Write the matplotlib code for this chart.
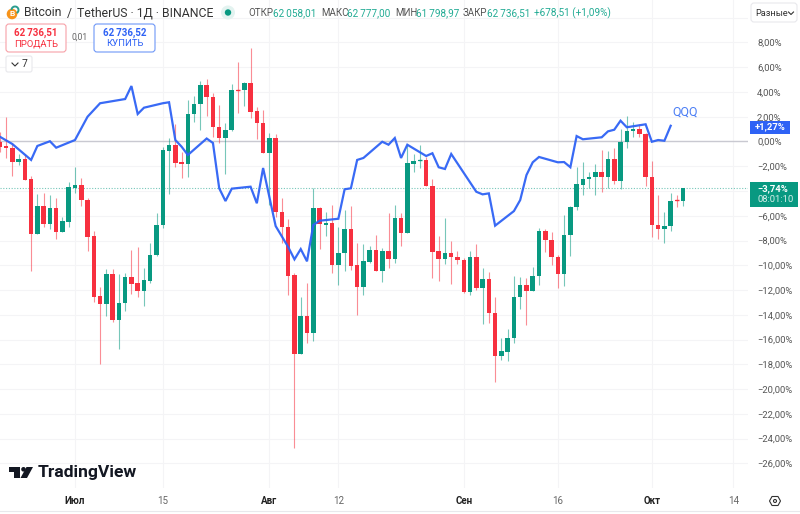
import matplotlib
matplotlib.use("Agg")
import matplotlib.pyplot as plt
from matplotlib.patches import FancyBboxPatch, Circle, Polygon, Rectangle, Arc

plt.rcParams['font.family'] = ['Roboto', 'DejaVu Sans']

# --- data: % change, day 0 = 1 July -------------------------------------
first_day = -12
opens = [-0.02,-0.36,-0.53,-1.66,-1.41,-3.03,-7.50,-5.21,-6.67,-5.37,-7.34,-6.48,-3.76,-3.49,-4.73,-7.66,
 -12.51,-13.15,-10.71,-14.40,-13.07,-10.95,-11.46,-12.10,-11.25,-9.19,-6.75,-0.74,-0.28,-1.68,-1.84,2.22,
 3.01,4.57,3.60,1.15,0.28,0.93,4.16,4.16,4.73,2.44,1.52,-0.90,0.26,-5.67,-6.91,-10.81,-17.17,-14.10,-15.50,
 -5.37,-6.72,-6.56,-9.95,-8.98,-7.07,-10.00,-11.78,-9.71,-8.79,-10.44,-8.82,-9.52,-6.18,-7.42,-1.79,-1.58,
 -1.47,-3.60,-8.87,-9.47,-8.98,-9.33,-9.55,-12.16,-9.33,-11.86,-11.11,-13.86,-17.31,-16.98,-15.90,-12.54,
 -11.62,-12.10,-10.87,-7.21,-7.98,-9.33,-10.73,-7.53,-5.29,-3.49,-3.05,-2.87,-2.49,-2.87,-1.41,-3.19,-0.04,
 0.85,0.99,0.61,-2.87,-6.77,-7.05,-6.83,-4.73,-4.83]
highs = [0.79,1.98,-0.12,-1.01,-1.01,-2.79,-4.24,-4.16,-4.32,-4.57,-6.08,-3.30,-2.04,-2.95,-4.54,-7.21,
 -11.76,-10.30,-10.33,-10.71,-10.60,-8.77,-8.55,-10.22,-8.23,-5.78,-0.47,0.31,1.41,-0.82,3.35,3.70,
 4.89,5.05,3.89,2.95,1.52,4.65,6.45,4.83,7.53,2.81,2.55,0.71,0.58,-4.59,-6.26,-10.65,-12.54,-11.46,-3.78,
 -5.27,-5.72,-5.13,-6.88,-5.53,-5.21,-8.23,-8.28,-8.42,-7.55,-8.58,-5.80,-5.16,-5.80,-0.28,-1.03,-0.28,
 -1.23,-3.05,-7.61,-6.21,-8.06,-8.85,-9.44,-8.85,-8.28,-10.25,-10.57,-12.56,-15.88,-15.17,-10.89,-10.97,
 -11.05,-10.14,-7.01,-7.05,-7.34,-9.19,-5.94,-5.21,-2.08,-1.63,-2.44,-1.82,-0.69,-0.77,-0.55,0.99,2.06,
 1.60,1.41,0.69,-1.58,-4.32,-5.72,-4.19,-4.32,-3.76]
lows = [-0.82,-1.33,-2.79,-1.90,-3.07,-10.44,-7.50,-6.88,-7.05,-7.85,-7.34,-6.88,-4.14,-5.19,-8.85,-12.94,
 -17.98,-14.08,-14.56,-16.77,-13.67,-12.32,-12.54,-13.27,-11.41,-9.23,-6.97,-4.27,-2.04,-2.97,-2.84,1.60,
 0.93,2.08,0.39,-0.10,-2.65,0.87,2.28,2.89,1.92,0.18,-0.95,-5.13,-6.08,-8.20,-12.40,-24.79,-17.19,-16.31,-16.10,
 -8.69,-7.61,-10.60,-11.59,-10.44,-10.38,-13.99,-12.40,-9.84,-10.44,-11.33,-10.20,-9.79,-8.42,-7.42,-2.49,-2.17,
 -3.62,-11.00,-11.25,-9.92,-11.49,-9.90,-12.22,-12.38,-12.00,-14.72,-14.67,-19.41,-17.65,-17.74,-16.26,-13.53,
 -14.80,-12.10,-11.59,-8.90,-9.98,-11.81,-11.65,-9.23,-5.53,-4.32,-3.78,-4.32,-4.06,-3.78,-3.43,-3.84,-0.50,
 0.39,0.39,-3.57,-7.69,-7.90,-8.18,-7.21,-5.27,-5.21]
closes = [-0.42,-0.53,-1.66,-1.41,-3.07,-7.47,-5.21,-6.67,-5.37,-7.34,-6.42,-3.70,-3.49,-4.75,-7.69,-12.54,
 -13.15,-10.71,-14.40,-13.07,-10.95,-11.51,-12.10,-11.22,-9.19,-6.75,-0.69,-0.28,-1.71,-1.84,2.22,3.01,
 4.57,3.60,1.17,0.28,0.93,4.16,4.10,4.73,2.41,1.52,-0.90,0.26,-5.67,-6.91,-10.84,-17.17,-14.10,-15.50,-5.37,
 -6.69,-6.56,-9.95,-8.98,-7.07,-10.04,-11.78,-9.68,-8.79,-10.44,-8.82,-9.52,-6.18,-7.42,-1.76,-1.58,-1.47,
 -3.62,-8.90,-9.47,-8.98,-9.36,-9.55,-12.16,-9.33,-11.86,-11.11,-13.88,-17.31,-16.95,-15.90,-12.54,-11.62,
 -12.10,-10.87,-7.21,-7.98,-9.36,-10.73,-7.53,-5.27,-3.43,-3.03,-2.84,-2.49,-2.87,-1.41,-3.19,-0.04,0.85,
 0.99,0.61,-2.87,-6.77,-7.05,-6.80,-4.78,-4.78,-3.76]

qqq_days = [-12,-10,-7,-6,-4,-3,0,2,4,8,9,10,11,14,15,16,17,18,21,22,23,24,25,28,29,30,32,34,35,36,37,38,39,42,
 43,44,45,46,49,50,51,52,53,56,57,58,59,60,64,65,66,67,70,71,72,73,74,77,78,79,80,81,84,85,86,87,88,91,92,93,94,95]
qqq_vals = [0.39,-0.20,-1.49,-0.36,0.02,-0.50,0.12,2.00,3.09,3.43,4.48,2.22,2.73,3.09,3.17,0.12,-0.42,-1.09,0.24,-0.12,
 -3.78,-4.81,-3.81,-3.65,-4.99,-2.14,-6.83,-8.52,-9.52,-8.69,-9.68,-6.75,-6.40,-6.24,-3.86,-3.78,-1.49,-1.33,-0.02,
 -0.26,0.28,-1.33,-0.26,-1.17,-0.95,-2.08,-2.22,-1.01,-4.06,-4.27,-4.19,-6.80,-5.62,-4.73,-2.71,-1.68,-1.25,-1.68,
 -1.66,-2.08,0.44,0.18,0.34,0.82,0.95,1.68,1.15,1.39,-0.02,0.12,0.06,1.27]

x_tick_days = [0, 14, 31, 42, 62, 77, 92, 105]
x_tick_labels = ['Июл', '15', 'Авг', '12', 'Сен', '16', 'Окт', '14']
x_tick_bold = [True, False, True, False, True, False, True, False]
y_ticks = list(range(8, -28, -2))
hidden_y_labels = [-4]   # covered by the price tag in the reference
last_btc = -3.74
last_qqq = 1.27

GREEN, RED, BLUE = '#089981', '#F7303F', '#2E62F5'
days = [first_day + i for i in range(len(closes))]

fig = plt.figure(figsize=(8.0, 5.14), dpi=100, facecolor='white')
W, H = 800, 514
ax = fig.add_axes([0, (H - 488) / H, 748 / W, 488 / H])
ax.set_xlim(-11.96, 107.33)
ax.set_ylim(-27.99, 11.43)
for s in ax.spines.values():
    s.set_visible(False)

# grid
def y_label(v):
    if v in hidden_y_labels:
        return ''
    return f'{v},00%' if v >= 0 else f'\u2212{abs(v)},00%'

ax.set_yticks(y_ticks + [10])
ax.set_yticklabels([y_label(v) for v in y_ticks] + [''])
ax.yaxis.tick_right()
ax.set_xticks(x_tick_days)
ax.set_xticklabels(x_tick_labels)
for lab, b in zip(ax.get_xticklabels(), x_tick_bold):
    lab.set_fontweight('bold' if b else 'normal')
    lab.set_color('#222222' if b else '#666666')
ax.tick_params(axis='x', length=0, pad=6, labelsize=7.0)
ax.tick_params(axis='y', length=0, pad=6.5, labelsize=6.8, labelcolor='#555555')
for lab in ax.get_yticklabels():
    lab.set_ha('left')
ax.grid(True, color='#F4F4F6', lw=0.8, zorder=0)
ax.set_axisbelow(True)

ax.axhline(0, color='#C9C9D1', lw=1.0, zorder=1)
ax.axhline(last_btc, color=GREEN, lw=0.8, ls=(0, (1, 1.5)), alpha=0.55, zorder=1)

# candles
colors = [GREEN if c >= o else RED for o, c in zip(opens, closes)]
ax.vlines(days, lows, highs, colors=colors, lw=0.8, alpha=0.55, zorder=2)
ax.bar(days, [abs(c - o) for o, c in zip(opens, closes)],
       bottom=[min(o, c) for o, c in zip(opens, closes)],
       width=0.72, color=colors, linewidth=0, zorder=3)
for d, o, c, col in zip(days, opens, closes, colors):
    if abs(c - o) < 0.12:
        ax.hlines((o + c) / 2, d - 0.36, d + 0.36, colors=col, lw=1.0, zorder=3)

# comparison series
ax.plot(qqq_days, qqq_vals, color=BLUE, lw=1.6, zorder=4, solid_joinstyle='miter', alpha=0.95)

# overlay in pixel coordinates for the interface furniture
ov = fig.add_axes([0, 0, 1, 1], facecolor='none', zorder=10)
ov.set_xlim(0, W)
ov.set_ylim(H, 0)
ov.axis('off')


def box(x0, y0, x1, y1, fc='white', ec='none', lw=0.8, r=3):
    ov.add_patch(FancyBboxPatch((x0 + r, y0 + r), x1 - x0 - 2 * r, y1 - y0 - 2 * r,
                                boxstyle=f'round,pad={r},rounding_size={r}',
                                fc=fc, ec=ec, lw=lw))


def t(x, y, s, c='#444444', size=7.0, ha='left', w='normal'):
    ov.text(x, y, s, color=c, fontsize=size, ha=ha, va='center', fontweight=w)


ov.plot([0, W], [511, 511], color='#E8E8EC', lw=0.8)

# header
ov.add_patch(Circle((12, 14), 5.3, fc='#F7931A', ec='none'))
t(12, 14, 'B', 'white', 6, 'center', 'bold')
ov.add_patch(Arc((15, 10), 7, 7, theta1=180, theta2=60, color='#2A9D8F', lw=1.4))
t(24, 13, 'Bitcoin', '#333333', 8.8)
t(67, 13, '/', '#333333', 8.8)
t(77, 13, 'TetherUS · 1Д · BINANCE', '#333333', 8.8)
ov.add_patch(Circle((228, 12.5), 7, fc='#E3F3F0', ec='none'))
ov.add_patch(Circle((228, 12.5), 3.2, fc=GREEN, ec='none'))
TEAL = '#22AB94'
for x, lab in [(248, 'ОТКР'), (321, 'МАКС'), (395, 'МИН'), (463, 'ЗАКР')]:
    t(x, 13, lab, '#555555', 7.0)
for x, val in [(273, '62\u2009058,01'), (347, '62\u2009777,00'), (416, '61\u2009798,97'), (487, '62\u2009736,51'),
               (534, '+678,51 (+1,09%)')]:
    t(x, 13, val, TEAL, 7.2)

# buy / sell
box(6, 24, 66, 52, ec='#F7A1A8')
t(36, 33, '62\u2009736,51', RED, 7.0, 'center', 'bold')
t(36, 44, 'ПРОДАТЬ', RED, 6.8, 'center')
t(80, 37.5, '0,01', '#666666', 6.2, 'center')
box(94, 24, 155, 52, ec='#6E97F7')
t(124.5, 33, '62\u2009736,52', BLUE, 7.0, 'center', 'bold')
t(124.5, 44, 'КУПИТЬ', BLUE, 6.8, 'center')
box(6, 56, 32, 72, ec='#E8E8EC', r=2)
ov.plot([12, 15, 18], [63, 66, 63], color='#333333', lw=0.8)
t(24.5, 64, '7', '#333333', 7.4, 'center')

# scale mode button
box(751, 3, 797, 22, ec='#E8E8EC')
t(755, 13, 'Разные', '#333333', 6.6)
ov.plot([788.5, 791, 793.5], [12, 14.5, 12], color='#333333', lw=0.8)

# series annotation and price tags
t(672, 112.5, 'QQQ', '#4C7EF5', 9.0)
ov.add_patch(Rectangle((750, 120.5), 40, 13, fc=BLUE, ec='none'))
t(770, 127, f'+{last_qqq:.2f}%'.replace('.', ','), 'white', 6.8, 'center', 'bold')
ov.add_patch(Rectangle((750, 182), 47.5, 24.5, fc=GREEN, ec='none'))
t(757, 188.5, f'\u2212{abs(last_btc):.2f}%'.replace('.', ','), 'white', 6.8, 'left', 'bold')
t(757, 199.5, '08:01:10', '#D6EFEA', 6.8, 'left')

# settings icon
ov.add_patch(Polygon([(769.5, 501), (772, 496.5), (778, 496.5), (780.5, 501), (778, 505.5), (772, 505.5)],
                     closed=True, fc='none', ec='#333333', lw=0.8))
ov.add_patch(Circle((775, 501), 1.5, fc='none', ec='#333333', lw=0.8))

# TradingView mark
DARK = '#131722'
ov.add_patch(Polygon([(8.5, 467), (20, 467), (20, 478), (14, 478), (14, 471.5), (8.5, 471.5)], closed=True,
                     fc=DARK, ec='none'))
ov.add_patch(Circle((23.5, 469.3), 2.3, fc=DARK, ec='none'))
ov.add_patch(Polygon([(26.5, 467), (33, 467), (27, 478), (20.5, 478)], closed=True, fc=DARK, ec='none'))
t(38, 473, 'TradingView', DARK, 12.6, 'left', 'bold')

fig.savefig('out.png', dpi=100, facecolor='white')
